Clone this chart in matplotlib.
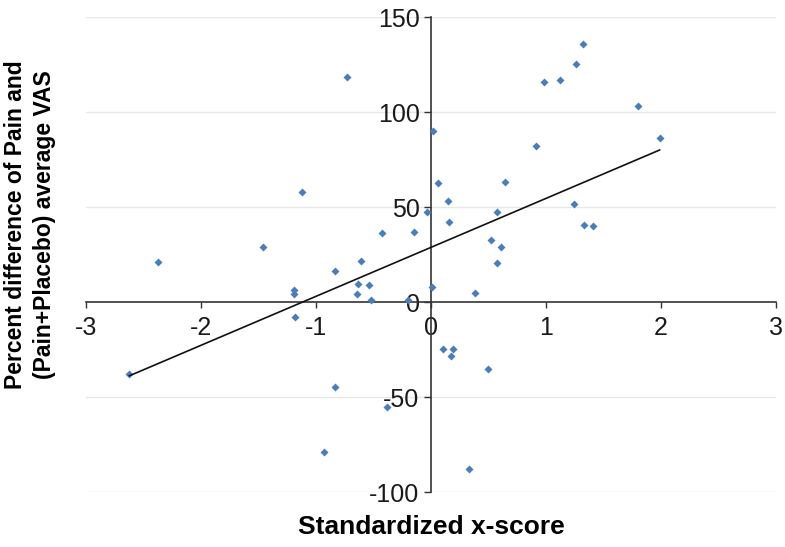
import numpy as np
import matplotlib
matplotlib.use("Agg")
import matplotlib.pyplot as plt

plt.rcParams['font.family'] = ['Liberation Sans', 'DejaVu Sans']
plt.rcParams['axes.unicode_minus'] = False

# standardized x-score vs percent difference
x_score = [-2.62, -2.37, -1.46, -1.19, -1.19, -1.18, -1.12, -0.925, -0.83, -0.83,
           -0.725, -0.645, -0.63, -0.61, -0.54, -0.52, -0.42, -0.38, -0.195, -0.145,
           -0.03, 0.01, 0.017, 0.062, 0.11, 0.146, 0.155, 0.177, 0.19, 0.336,
           0.385, 0.495, 0.524, 0.58, 0.58, 0.61, 0.646, 0.916, 0.985, 1.12,
           1.246, 1.26, 1.32, 1.33, 1.41, 1.80, 1.99]
pct_diff = [-38, 21, 29, 6.3, 4.0, -7.7, 57.7, -79, 16.4, -44.6,
            118.3, 4.1, 9.7, 21.6, 9.2, 1.2, 36.5, -55, 1, 36.8,
            47.2, 7.7, 90, 62.6, -24.6, 53.4, 42, -28.2, -24.6, -87.9,
            4.6, -35.4, 32.5, 47.3, 20.5, 28.7, 63.4, 82, 116, 116.8,
            51.8, 125.3, 135.8, 40.5, 40, 103, 86.3]

x_ticks = [-3, -2, -1, 0, 1, 2, 3]
y_ticks = [-100, -50, 0, 50, 100, 150]

x = np.array(x_score)
y = np.array(pct_diff)

fig = plt.figure(figsize=(7.85, 5.47), dpi=100)
ax = fig.add_axes([0.1092, 0.1005, 0.879, 0.8684])

for yt in y_ticks:
    if yt != 0:
        ax.axhline(yt, color='#e8e8e8', lw=1.0, zorder=0)

ax.plot(x, y, 'D', color='#4a7ebb', ms=4.2, mec='none', zorder=3)

slope, intercept = np.polyfit(x, y, 1)
xl = np.array([x.min(), x.max()])
ax.plot(xl, slope * xl + intercept, color='#111111', lw=1.2, zorder=4)

ax.set_xlim(-3, 3)
ax.set_ylim(-100, 150)
ax.set_xticks(x_ticks)
ax.set_yticks(y_ticks)

ax.spines['left'].set_position(('data', 0))
ax.spines['bottom'].set_position(('data', 0))
ax.spines['right'].set_visible(False)
ax.spines['top'].set_visible(False)
for s in ('left', 'bottom'):
    ax.spines[s].set_color('#333333')
    ax.spines[s].set_linewidth(1.2)

ax.tick_params(axis='x', direction='out', length=4, width=1, color='#333333',
               labelsize=18, labelcolor='#1a1a1a', pad=6)
ax.tick_params(axis='y', direction='out', length=5, width=1, color='#333333',
               labelsize=18, labelcolor='#1a1a1a', pad=3)

fig.text(0.549, 0.037, 'Standardized x-score', ha='center', va='center',
         fontsize=19, fontweight='bold')
fig.text(0.038, 0.589, 'Percent difference of Pain and\n(Pain+Placebo) average VAS',
         ha='center', va='center', rotation=90, fontsize=16.5, fontweight='bold',
         linespacing=1.3)

fig.savefig('out.png', dpi=100)
